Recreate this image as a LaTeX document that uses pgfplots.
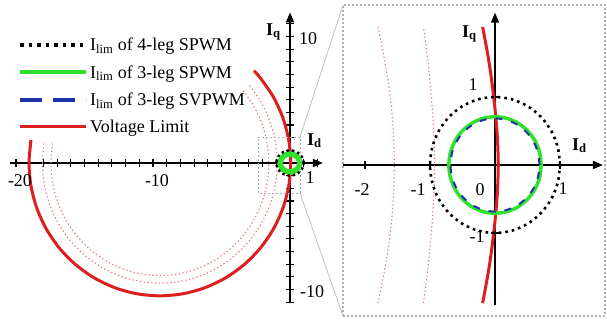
\documentclass[border=0pt]{standalone}
\usepackage{pgfplots}
\pgfplotsset{compat=1.18}
\usepackage{fontspec}
\setmainfont{Liberation Serif}
\usetikzlibrary{arrows.meta}
\definecolor{lred}{RGB}{222,30,30}
\definecolor{lgreen}{RGB}{45,225,45}
\definecolor{dblue}{RGB}{30,50,170}
\definecolor{pred}{RGB}{240,110,120}
\definecolor{boxgray}{RGB}{175,175,175}
\newcommand\fs{\fontsize{18bp}{21bp}\selectfont}
\tikzset{
 blackdot/.style={black, line width=2.6bp, dash pattern=on 2.6bp off 4bp},
 greenl/.style={color=lgreen, line width=3.5bp},
 bluedash/.style={color=dblue, line width=2bp, dash pattern=on 7bp off 9bp},
 redl/.style={color=lred, line width=3bp},
 reddot/.style={color=pred, line width=1.1bp, dash pattern=on 1.3bp off 2.5bp},
}
\pgfplotsset{
 myaxis/.style={
  axis lines=middle,
  axis line style={line width=1.5bp, -{Triangle[length=10bp,width=8bp]}},
  xticklabels={}, yticklabels={},
  tick align=center, major tick length=8bp,
  every tick/.style={black, line width=1.1bp},
 }
}
\begin{document}
\begin{tikzpicture}[x=1bp,y=1bp]
\path[use as bounding box] (0,0) rectangle (607,324);
% ---------------- left panel
\begin{axis}[myaxis,
 at={(290bp,161bp)}, anchor=origin,
 x=13.7bp, y=12.65bp,
 xmin=-20.45, xmax=2.4, ymin=-11.1, ymax=11.9,
 xtick={-20,-19,...,-1,1,2}, ytick={-11,-10,...,-1,1,2,...,11},
 legend style={draw=none, fill=none, at={(0.026,0.919)}, anchor=north west, font=\fs, inner sep=0bp, row sep=9bp},
 legend cell align=left,
 legend image code/.code={\draw[#1] (0bp,0bp) -- (66bp,0bp);},
]
\addlegendimage{black, line width=3.8bp, dash pattern=on 3.8bp off 4.7bp}
\addlegendentry{I\textsubscript{lim} of 4-leg SPWM}
\addlegendimage{color=lgreen, line width=4bp}
\addlegendentry{I\textsubscript{lim} of 3-leg SPWM}
\addlegendimage{color=dblue, line width=4bp, dash pattern=on 22bp off 11bp}
\addlegendentry{I\textsubscript{lim} of 3-leg SVPWM}
\addlegendimage{color=lred, line width=3.5bp}
\addlegendentry{Voltage Limit}
% dotted red arcs
\addplot[reddot, smooth, forget plot] coordinates {
(-2.935,6.107) (-2.078,4.75) (-1.447,3.249) (-1.060,1.649) (-0.93,0) (-1.060,-1.649) (-1.447,-3.249) (-2.078,-4.75) (-2.935,-6.107) (-3.991,-7.277) (-5.215,-8.227) (-6.569,-8.927) (-8.012,-9.356) (-9.5,-9.5) (-10.988,-9.356) (-12.431,-8.927) (-13.785,-8.227) (-14.991,-7.277) (-16.065,-6.107) (-16.922,-4.75) (-17.553,-3.249) (-17.940,-1.649) (-18.07,0) (-17.940,1.649)};
\addplot[reddot, smooth, forget plot] coordinates {
(-3.41,5.721) (-2.615,4.45) (-2.029,3.044) (-1.671,1.545) (-1.55,0) (-1.671,-1.545) (-2.029,-3.044) (-2.615,-4.45) (-3.41,-5.721) (-4.39,-6.817) (-5.525,-7.707) (-6.781,-8.363) (-8.12,-8.765) (-9.5,-8.9) (-10.88,-8.765) (-12.219,-8.363) (-13.475,-7.707) (-14.61,-6.817) (-15.59,-5.721) (-16.385,-4.45) (-16.971,-3.044) (-17.329,-1.545) (-17.45,0) (-17.329,1.545)};
% voltage limit
\addplot[redl, smooth, forget plot] coordinates {
(-2.63,7.29) (-2.185,6.749) (-1.230,5.25) (-0.526,3.591) (-0.095,1.823) (0.05,0) (-0.095,-1.823) (-0.526,-3.591) (-1.230,-5.25) (-2.185,-6.749) (-3.361,-8.043) (-4.725,-9.093) (-6.234,-9.867) (-7.842,-10.340) (-9.5,-10.5) (-11.158,-10.340) (-12.766,-9.867) (-14.275,-9.093) (-15.639,-8.043) (-16.815,-6.749) (-17.770,-5.25) (-18.474,-3.591) (-18.905,-1.823) (-19.05,0) (-18.905,1.823)};
% small circles
\addplot[color=lgreen, line width=5.5bp, smooth, forget plot] coordinates {
(0.71,0) (0.6858,0.1837) (0.6149,0.355) (0.502,0.502) (0.355,0.6149) (0.1837,0.6858) (0,0.71) (-0.1837,0.6858) (-0.355,0.6149) (-0.502,0.502) (-0.6149,0.355) (-0.6858,0.1837) (-0.71,0) (-0.6858,-0.1837) (-0.6149,-0.355) (-0.502,-0.502) (-0.355,-0.6149) (-0.1837,-0.6858) (0,-0.71) (0.1837,-0.6858) (0.355,-0.6149) (0.502,-0.502) (0.6149,-0.355) (0.6858,-0.1837) (0.71,0)};
\addplot[black, line width=2.4bp, dash pattern=on 2.4bp off 3bp, smooth, forget plot] coordinates {
(1,0) (0.9659,0.2588) (0.8660,0.5) (0.7071,0.7071) (0.5,0.8660) (0.2588,0.9659) (0,1) (-0.2588,0.9659) (-0.5,0.8660) (-0.7071,0.7071) (-0.8660,0.5) (-0.9659,0.2588) (-1,0) (-0.9659,-0.2588) (-0.8660,-0.5) (-0.7071,-0.7071) (-0.5,-0.8660) (-0.2588,-0.9659) (0,-1) (0.2588,-0.9659) (0.5,-0.8660) (0.7071,-0.7071) (0.8660,-0.5) (0.9659,-0.2588) (1,0)};
\end{axis}
% ---------------- right panel
\begin{axis}[myaxis,
 at={(495bp,159bp)}, anchor=origin,
 x=65bp, y=68bp,
 xmin=-2.34, xmax=1.66, ymin=-2.06, ymax=2.24,
 xtick={-2,-1,1}, ytick={-1,1},
]
\addplot[reddot, smooth] coordinates {
(-1.10,-2.03) (-1.03,-1.5) (-0.98,-1) (-0.943,-0.5) (-0.93,0) (-0.943,0.5) (-0.98,1) (-1.03,1.5) (-1.10,2.03)};
\addplot[reddot, smooth] coordinates {
(-1.80,-2.03) (-1.69,-1.5) (-1.61,-1) (-1.565,-0.5) (-1.55,0) (-1.565,0.5) (-1.61,1) (-1.69,1.5) (-1.80,2.03)};
\addplot[redl, smooth] coordinates {
(-0.19,-2.03) (-0.09,-1.5) (-0.02,-1) (0.03,-0.5) (0.05,0) (0.03,0.5) (-0.02,1) (-0.09,1.5) (-0.19,2.03)};
\addplot[greenl, smooth] coordinates {
(0.71,0) (0.6858,0.1837) (0.6149,0.355) (0.502,0.502) (0.355,0.6149) (0.1837,0.6858) (0,0.71) (-0.1837,0.6858) (-0.355,0.6149) (-0.502,0.502) (-0.6149,0.355) (-0.6858,0.1837) (-0.71,0) (-0.6858,-0.1837) (-0.6149,-0.355) (-0.502,-0.502) (-0.355,-0.6149) (-0.1837,-0.6858) (0,-0.71) (0.1837,-0.6858) (0.355,-0.6149) (0.502,-0.502) (0.6149,-0.355) (0.6858,-0.1837) (0.71,0)};
\addplot[bluedash, smooth] coordinates {
(0.685,0) (0.6616,0.1773) (0.5932,0.3425) (0.4844,0.4844) (0.3425,0.5932) (0.1773,0.6616) (0,0.685) (-0.1773,0.6616) (-0.3425,0.5932) (-0.4844,0.4844) (-0.5932,0.3425) (-0.6616,0.1773) (-0.685,0) (-0.6616,-0.1773) (-0.5932,-0.3425) (-0.4844,-0.4844) (-0.3425,-0.5932) (-0.1773,-0.6616) (0,-0.685) (0.1773,-0.6616) (0.3425,-0.5932) (0.4844,-0.4844) (0.5932,-0.3425) (0.6616,-0.1773) (0.685,0)};
\addplot[blackdot, smooth] coordinates {
(1,0) (0.9659,0.2588) (0.8660,0.5) (0.7071,0.7071) (0.5,0.8660) (0.2588,0.9659) (0,1) (-0.2588,0.9659) (-0.5,0.8660) (-0.7071,0.7071) (-0.8660,0.5) (-0.9659,0.2588) (-1,0) (-0.9659,-0.2588) (-0.8660,-0.5) (-0.7071,-0.7071) (-0.5,-0.8660) (-0.2588,-0.9659) (0,-1) (0.2588,-0.9659) (0.5,-0.8660) (0.7071,-0.7071) (0.8660,-0.5) (0.9659,-0.2588) (1,0)};
\end{axis}
% zoom boxes and connector lines
\draw[boxgray, line width=1.3bp, dash pattern=on 2bp off 2bp] (343,8) rectangle (605,319);
\draw[boxgray, line width=1bp, dash pattern=on 2bp off 2bp] (258,131) rectangle (300,187);
\draw[boxgray!80, line width=0.8bp] (300,187) -- (343,319);
\draw[boxgray!80, line width=0.8bp] (300,131) -- (343,8);
% tick labels, left
\node[font=\fs] at (20,143) {-20};
\node[font=\fs] at (157,143) {-10};
\node[font=\fs] at (310,146) {1};
\node[font=\fs] at (308,285) {10};
\node[font=\fs] at (312,32) {-10};
\node[font=\fs, anchor=base west, inner sep=0] at (266,289) {\textbf{I}\textsubscript{\textbf{q}}};
\node[font=\fs, anchor=base west, inner sep=0] at (307,179) {\textbf{I}\textsubscript{\textbf{d}}};
% tick labels, right
\node[font=\fs] at (362,134) {-2};
\node[font=\fs] at (418,134) {-1};
\node[font=\fs] at (480,134) {0};
\node[font=\fs] at (563,135) {1};
\node[font=\fs] at (473,239) {1};
\node[font=\fs] at (477,87) {-1};
\node[font=\fs, anchor=base west, inner sep=0] at (462,287) {\textbf{I}\textsubscript{\textbf{q}}};
\node[font=\fs, anchor=base west, inner sep=0] at (572,174) {\textbf{I}\textsubscript{\textbf{d}}};
\end{tikzpicture}
\end{document}
